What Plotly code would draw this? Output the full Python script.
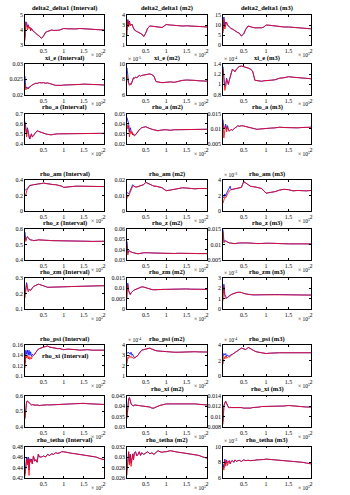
import plotly.graph_objects as go

# iterations (x 10^5)
X = [0.04, 0.06, 0.08, 0.10, 0.12, 0.14, 0.16, 0.18, 0.20, 0.22, 0.25, 0.28, 0.31, 0.34, 0.37,
     0.40, 0.45, 0.50, 0.55, 0.60, 0.65, 0.70, 0.75, 0.80, 0.85, 0.90, 0.95, 1.00, 1.10, 1.20,
     1.30, 1.40, 1.50, 1.60, 1.70, 1.80, 1.90, 2.00]
X_TICKS = [0.5, 1, 1.5, 2]

TITLES = [
    "delta2_delta1 (Interval)", "delta2_delta1 (m2)", "delta2_delta1 (m3)",
    "xi_e (Interval)", "xi_e (m2)", "xi_e (m3)",
    "rho_a (Interval)", "rho_a (m2)", "rho_a (m3)",
    "rho_am (Interval)", "rho_am (m2)", "rho_am (m3)",
    "rho_z (Interval)", "rho_z (m2)", "rho_z (m3)",
    "rho_zm (Interval)", "rho_zm (m2)", "rho_zm (m3)",
    "rho_psi (Interval)", "rho_psi (m2)", "rho_psi (m3)",
    "rho_xi (Interval)", "rho_xi (m2)", "rho_xi (m3)",
    "rho_tetha (Interval)", "rho_tetha (m2)", "rho_tetha (m3)",
]

# y tick labels per panel
Y_TICKS = [
    [3, 4, 5], [1, 2, 3, 4], [0, 5, 10, 15],
    [0.02, 0.025, 0.03], [6, 8, 10], [0.8, 1, 1.2, 1.4],
    [0.4, 0.5, 0.6, 0.7], [0.02, 0.03, 0.04, 0.05], [0.005, 0.01, 0.015],
    [0, 0.2, 0.4], [0, 0.01, 0.02], [0, 2, 4],
    [0.4, 0.5, 0.6], [0.03, 0.04, 0.05, 0.06], [0.005, 0.01, 0.015],
    [0.1, 0.2, 0.3], [0, 0.005, 0.01, 0.015], [0, 1, 2, 3],
    [0.1, 0.12, 0.14, 0.16], [1, 2, 3, 4], [0, 2, 4],
    [0.4, 0.5, 0.6], [0.03, 0.035, 0.04, 0.045], [0.008, 0.01, 0.012, 0.014],
    [0.42, 0.44, 0.46, 0.48], [0.026, 0.028, 0.03, 0.032], [6, 8, 10],
]
# power-of-ten multiplier shown above the y axis (None = none)
Y_EXP = [None, None, None, None, -5, -4, None, None, None,
         None, None, -3, None, None, None, None, None, -3,
         None, -4, -4, None, None, None, None, None, -3]

# ---- series (red = full, blue = differing early part, then same as red)
P01_RED = [3.3,4.5,4.3,4.0,4.3,4.1,4.2,3.95,4.1,4.0,3.9,3.85,3.75,3.7,3.65,3.55,3.45,3.6,3.85,3.9,3.95,4.0,3.97,4.0,3.98,4.0,4.05,4.1,4.08,4.05,4.07,4.1,4.1,4.05,4.05,4.03,4.02,4.0]
P01_BLUE = [3.5,4.55,4.5,4.2,4.35,4.15]
P02_RED = [2.0,3.5,2.8,3.3,2.9,3.0,3.1,2.8,2.7,2.5,2.4,2.35,2.3,2.25,2.2,2.1,1.85,2.2,2.7,2.9,2.88,2.85,2.82,2.85,2.8,2.75,2.9,3.05,3.0,2.95,2.92,2.9,2.92,2.88,2.88,2.85,2.83,2.8]
P02_BLUE = [2.5,3.55,3.0,3.4,3.0]
P03_RED = [6,13,8,11,11.5,10,9.5,9,8.5,8.2,8,7.5,7,6.5,6.2,6,4.5,5.5,8,9.5,9,8.8,8.6,8.5,8.5,8.6,9,10,9.8,9.5,9.2,9,9,8.8,8.6,8.4,8.2,8.1]
P03_BLUE = [7,14,9,11.5,11]
P04_RED = [0.0235,0.0215,0.022,0.0222,0.0218,0.0225,0.0224,0.0228,0.023,0.0232,0.0233,0.0236,0.0237,0.0236,0.0238,0.0239,0.0238,0.0239,0.0237,0.0238,0.0236,0.0234,0.0231,0.023,0.023,0.0229,0.023,0.0231,0.0231,0.0232,0.0233,0.0233,0.0234,0.0234,0.0233,0.0232,0.0232,0.0231]
P04_BLUE = [0.026,0.022,0.0225]
P05_RED = [8.5,7.6,7.4,7.2,7.4,7.3,7.6,8.0,8.2,8.1,8.3,8.2,8.4,8.5,8.4,8.5,8.55,8.6,8.65,8.7,8.6,8.4,7.7,7.6,7.6,7.55,7.6,7.6,7.65,7.6,7.75,7.85,7.9,7.9,7.85,7.8,7.8,7.75]
P05_BLUE = [9.5,7.9,7.5,7.4]
P06_RED = [1.3,1.0,0.88,0.95,1.1,1.05,1.0,1.08,1.15,1.2,1.3,1.27,1.25,1.3,1.33,1.35,1.36,1.35,1.34,1.32,1.3,1.26,1.08,1.07,1.07,1.06,1.07,1.07,1.08,1.09,1.12,1.13,1.15,1.14,1.13,1.13,1.12,1.11]
P06_BLUE = [1.35,1.05,0.95,1.0,1.12]
P07_RED = [0.6,0.52,0.47,0.55,0.5,0.46,0.45,0.48,0.5,0.47,0.48,0.5,0.52,0.53,0.525,0.52,0.515,0.51,0.5,0.495,0.49,0.49,0.495,0.5,0.5,0.5,0.5,0.505,0.505,0.5,0.505,0.505,0.505,0.505,0.505,0.5,0.505,0.505]
P07_BLUE = [0.62,0.56,0.5,0.56,0.52,0.48]
P08_RED = [0.04,0.035,0.038,0.027,0.033,0.03,0.032,0.029,0.03,0.028,0.029,0.031,0.032,0.034,0.035,0.036,0.0365,0.037,0.036,0.035,0.0345,0.034,0.0335,0.033,0.0335,0.034,0.034,0.034,0.0335,0.034,0.034,0.0345,0.034,0.034,0.0345,0.0345,0.0345,0.0345]
P08_BLUE = [0.046,0.042,0.04,0.032,0.036,0.033]
P09_RED = [0.012,0.007,0.0095,0.011,0.009,0.0105,0.0098,0.0092,0.0095,0.0098,0.0095,0.01,0.0103,0.0106,0.011,0.0108,0.011,0.0109,0.0107,0.0105,0.0103,0.0101,0.01,0.0098,0.0099,0.01,0.01,0.01,0.0102,0.0103,0.0105,0.0104,0.0103,0.0102,0.0103,0.0104,0.0105,0.0105]
P09_BLUE = [0.013,0.01,0.0105,0.0115,0.0098,0.011]
P10_RED = [0.22,0.2,0.26,0.28,0.3,0.32,0.33,0.33,0.335,0.335,0.34,0.34,0.345,0.345,0.35,0.35,0.355,0.36,0.355,0.35,0.345,0.34,0.34,0.34,0.335,0.33,0.32,0.305,0.31,0.32,0.32,0.32,0.32,0.315,0.315,0.315,0.315,0.315]
P10_BLUE = [0.28,0.27,0.28,0.3,0.31]
P11_RED = [0.008,0.01,0.0095,0.011,0.012,0.013,0.0145,0.016,0.0162,0.0158,0.0155,0.0155,0.0158,0.016,0.016,0.0162,0.017,0.0185,0.0178,0.0172,0.0168,0.016,0.016,0.0158,0.0155,0.015,0.014,0.0131,0.0135,0.014,0.0148,0.015,0.0148,0.0145,0.0143,0.0145,0.0145,0.0145]
P11_BLUE = [0.012,0.011,0.011,0.012,0.013,0.014,0.0155,0.017]
P12_RED = [1.0,1.5,1.8,1.7,2.0,2.2,2.4,2.6,2.7,2.75,2.8,2.85,2.9,2.95,3.0,3.0,3.05,3.8,3.55,3.4,3.2,3.1,3.1,3.05,3.0,2.9,2.6,2.3,2.4,2.5,2.7,2.8,2.75,2.6,2.65,2.6,2.6,2.65]
P12_BLUE = [1.7,1.8,2.2,1.9,2.3,2.5,2.7,3.0,3.2]
P13_RED = [0.55,0.52,0.54,0.55,0.545,0.535,0.53,0.53,0.53,0.528,0.525,0.525,0.527,0.528,0.53,0.53,0.53,0.53,0.528,0.527,0.526,0.525,0.525,0.524,0.524,0.524,0.524,0.524,0.523,0.522,0.521,0.521,0.521,0.521,0.52,0.52,0.521,0.521]
P13_BLUE = [0.58,0.53,0.545]
P14_RED = [0.045,0.035,0.038,0.039,0.038,0.0375,0.037,0.0372,0.037,0.0368,0.0365,0.036,0.036,0.0362,0.0365,0.0368,0.037,0.037,0.0372,0.037,0.0368,0.0367,0.0366,0.0365,0.0365,0.0364,0.0362,0.036,0.0362,0.0363,0.0365,0.0366,0.0366,0.0365,0.0363,0.0362,0.0362,0.0362]
P14_BLUE = [0.048,0.037,0.039]
P15_RED = [0.014,0.0105,0.011,0.0112,0.011,0.0108,0.0106,0.0105,0.0105,0.0104,0.0104,0.0103,0.0103,0.0104,0.0105,0.0105,0.0105,0.0106,0.0105,0.0105,0.0104,0.0104,0.0103,0.0103,0.0103,0.0104,0.0104,0.0104,0.0104,0.0103,0.0103,0.0102,0.0102,0.0102,0.0102,0.0102,0.0102,0.0102]
P15_BLUE = [0.0148,0.011,0.0112]
P16_RED = [0.17,0.24,0.26,0.23,0.21,0.22,0.225,0.22,0.225,0.235,0.245,0.25,0.255,0.26,0.26,0.258,0.255,0.25,0.245,0.24,0.24,0.24,0.24,0.242,0.242,0.242,0.243,0.243,0.244,0.245,0.245,0.246,0.246,0.247,0.248,0.249,0.25,0.25]
P16_BLUE = [0.2,0.25,0.27,0.24,0.22,0.225]
P17_RED = [0.005,0.0115,0.0085,0.0075,0.007,0.0078,0.0083,0.0088,0.009,0.0092,0.0095,0.0098,0.0102,0.0104,0.0106,0.0107,0.0106,0.0103,0.0098,0.0095,0.0094,0.0093,0.0094,0.0094,0.0094,0.0094,0.0095,0.0095,0.0096,0.0097,0.0097,0.0097,0.0097,0.0096,0.0096,0.0095,0.0095,0.0095]
P17_BLUE = [0.009,0.0125,0.009,0.0078]
P18_RED = [0.8,2.2,1.2,1.0,1.05,1.1,1.2,1.3,1.35,1.4,1.45,1.5,1.55,1.6,1.62,1.62,1.6,1.5,1.45,1.4,1.38,1.36,1.36,1.37,1.38,1.38,1.38,1.4,1.4,1.4,1.4,1.38,1.38,1.37,1.36,1.36,1.35,1.35]
P18_BLUE = [1.5,2.4,1.4,1.1]
P19_RED = [0.115,0.14,0.135,0.14,0.133,0.138,0.132,0.136,0.133,0.138,0.14,0.142,0.146,0.15,0.152,0.153,0.155,0.156,0.157,0.158,0.156,0.155,0.154,0.154,0.153,0.153,0.152,0.151,0.152,0.152,0.151,0.15,0.151,0.151,0.15,0.15,0.151,0.15]
P19_BLUE = [0.125,0.15,0.142,0.15,0.14,0.15,0.14,0.147,0.138,0.142]
P20_RED = [2.2,2.8,2.7,3.0,2.8,2.9,2.75,2.8,2.7,2.75,2.8,2.9,3.0,3.2,3.4,3.5,3.55,3.6,3.65,3.7,3.6,3.5,3.45,3.42,3.4,3.38,3.36,3.35,3.33,3.3,3.3,3.32,3.35,3.35,3.35,3.33,3.35,3.32]
P20_BLUE = [3.3,3.2,3.3,3.2,3.1,3.3,3.0,3.1,2.9]
P21_RED = [1.5,2.5,2.2,2.6,2.3,2.4,2.5,2.4,2.6,2.7,2.8,2.9,3.0,3.2,3.3,3.4,3.6,3.5,3.4,3.7,3.5,3.3,3.2,3.1,3.0,3.0,2.95,2.9,2.95,3.0,3.0,3.0,3.0,3.0,2.95,3.0,3.0,3.0]
P21_BLUE = [2.5,2.9,2.7,2.9,2.5,2.7,2.6,2.5,2.7]
P22_RED = [0.45,0.55,0.56,0.565,0.56,0.55,0.545,0.54,0.54,0.542,0.54,0.54,0.538,0.54,0.538,0.536,0.538,0.54,0.54,0.541,0.54,0.541,0.542,0.542,0.543,0.543,0.544,0.545,0.546,0.547,0.548,0.55,0.55,0.548,0.546,0.545,0.544,0.543]
P22_BLUE = [0.46,0.553,0.562]
P23_RED = [0.034,0.04,0.043,0.044,0.042,0.041,0.0405,0.04,0.04,0.0405,0.0405,0.0402,0.0403,0.0402,0.0401,0.04,0.04,0.04,0.0398,0.0395,0.039,0.039,0.0395,0.04,0.0403,0.0405,0.0407,0.041,0.041,0.041,0.0412,0.0413,0.0413,0.0412,0.041,0.0408,0.0406,0.0405]
P23_BLUE = [0.035,0.041,0.0435]
P24_RED = [0.0085,0.012,0.0125,0.0129,0.0125,0.012,0.0118,0.0116,0.0118,0.0117,0.0117,0.0118,0.0118,0.0118,0.0117,0.0117,0.0117,0.0116,0.0116,0.0115,0.0116,0.0117,0.0117,0.0118,0.0118,0.0119,0.0119,0.0119,0.0119,0.012,0.012,0.012,0.0121,0.012,0.0119,0.0119,0.0118,0.0118]
P24_BLUE = [0.009,0.0121,0.0126]
P25_RED = [0.423,0.44,0.455,0.445,0.458,0.425,0.455,0.45,0.455,0.447,0.462,0.452,0.455,0.45,0.465,0.46,0.46,0.462,0.46,0.465,0.463,0.466,0.465,0.468,0.467,0.468,0.47,0.47,0.468,0.467,0.466,0.465,0.464,0.462,0.461,0.46,0.457,0.455]
P25_BLUE = [0.428,0.445,0.46,0.448,0.46,0.435,0.457,0.452,0.456]
P26_RED = [0.0265,0.029,0.031,0.0285,0.0305,0.0282,0.0295,0.0305,0.0295,0.0308,0.031,0.0302,0.0305,0.031,0.0303,0.0308,0.0305,0.0308,0.031,0.0306,0.0308,0.0305,0.0308,0.0312,0.031,0.0309,0.031,0.031,0.0312,0.031,0.0309,0.0308,0.0307,0.0306,0.0305,0.0303,0.03,0.0298]
P26_BLUE = [0.0275,0.0295,0.031,0.029,0.0305,0.0288,0.0298,0.0306]
P27_RED = [7.4,7.0,8.3,7.5,8.2,7.6,8.0,8.2,7.8,8.1,8.2,8.0,8.3,8.1,8.2,8.25,8.1,8.3,8.2,8.25,8.2,8.2,8.25,8.3,8.3,8.3,8.35,8.4,8.35,8.3,8.25,8.2,8.2,8.1,8.05,8.0,7.9,7.8]
P27_BLUE = [7.8,7.3,8.4,7.8,8.3,7.9,8.1]

REDS = [P01_RED, P02_RED, P03_RED, P04_RED, P05_RED, P06_RED, P07_RED, P08_RED, P09_RED,
        P10_RED, P11_RED, P12_RED, P13_RED, P14_RED, P15_RED, P16_RED, P17_RED, P18_RED,
        P19_RED, P20_RED, P21_RED, P22_RED, P23_RED, P24_RED, P25_RED, P26_RED, P27_RED]
BLUES = [P01_BLUE, P02_BLUE, P03_BLUE, P04_BLUE, P05_BLUE, P06_BLUE, P07_BLUE, P08_BLUE, P09_BLUE,
         P10_BLUE, P11_BLUE, P12_BLUE, P13_BLUE, P14_BLUE, P15_BLUE, P16_BLUE, P17_BLUE, P18_BLUE,
         P19_BLUE, P20_BLUE, P21_BLUE, P22_BLUE, P23_BLUE, P24_BLUE, P25_BLUE, P26_BLUE, P27_BLUE]

# ---- layout geometry (pixels)
W, H = 350, 495
COLS = [(25, 104), (127, 207), (223, 311)]
ROWS = [(15, 45), (64, 94.5), (113.5, 144),
        (180, 211), (229, 260), (278, 309),
        (345, 376), (395.5, 427), (446.5, 478)]
FONT = "Liberation Serif"

def fx(p):
    return p / W

def fy(p):
    return 1 - p / H

def fmt(v):
    return ("%g" % v)

fig = go.Figure()
layout = dict(width=W, height=H, margin=dict(l=0, r=0, t=0, b=0), template="none",
              paper_bgcolor="white", plot_bgcolor="white", showlegend=False,
              font=dict(family=FONT, size=6, color="black"))
annotations = []

for i in range(27):
    r, c = divmod(i, 3)
    x0, x1 = COLS[c]
    y0, y1 = ROWS[r]
    n = i + 1
    xa = "x" if n == 1 else "x%d" % n
    ya = "y" if n == 1 else "y%d" % n
    red = REDS[i]
    blue = BLUES[i] + red[len(BLUES[i]):]
    fig.add_trace(go.Scatter(x=X, y=blue, mode="lines", xaxis=xa, yaxis=ya,
                             line=dict(color="#0000ff", width=0.8), hoverinfo="skip"))
    fig.add_trace(go.Scatter(x=X, y=red, mode="lines", xaxis=xa, yaxis=ya,
                             line=dict(color="#ff0000", width=0.8), hoverinfo="skip"))
    yt = Y_TICKS[i]
    axcommon = dict(showline=True, linecolor="black", linewidth=0.6, mirror="ticks",
                    ticks="inside", ticklen=2, tickwidth=0.5, tickcolor="black",
                    showgrid=False, zeroline=False,
                    tickfont=dict(family=FONT, size=6, color="black"))
    layout["xaxis" if n == 1 else "xaxis%d" % n] = dict(
        axcommon, domain=[fx(x0), fx(x1)], anchor=ya, range=[X[0], X[-1]],
        tickvals=X_TICKS, ticktext=[fmt(v) for v in X_TICKS])
    layout["yaxis" if n == 1 else "yaxis%d" % n] = dict(
        axcommon, domain=[fy(y1), fy(y0)], anchor=xa, range=[yt[0], yt[-1]],
        tickvals=yt, ticktext=[fmt(v) for v in yt])
    # title
    ty = y0 - 0.5 if i != 21 else 362
    annotations.append(dict(text="<b>%s</b>" % TITLES[i], xref="paper", yref="paper",
                            x=fx((x0 + x1) / 2), y=fy(ty), xanchor="center", yanchor="bottom",
                            showarrow=False, font=dict(family=FONT, size=6.5, color="black")))
    # x10^5 label
    annotations.append(dict(text="× 10<sup>5</sup>", xref="paper", yref="paper",
                            x=fx(x1 + 1), y=fy(y1 + 5), xanchor="right", yanchor="top",
                            showarrow=False, font=dict(family=FONT, size=5.5, color="black")))
    if Y_EXP[i] is not None:
        annotations.append(dict(text="× 10<sup>%d</sup>" % Y_EXP[i], xref="paper", yref="paper",
                                x=fx(x0 - 1), y=fy(y0 - 0.5), xanchor="left", yanchor="bottom",
                                showarrow=False, font=dict(family=FONT, size=5.5, color="black")))

layout["annotations"] = annotations
fig.update_layout(**layout)
fig.write_html("out.html")
